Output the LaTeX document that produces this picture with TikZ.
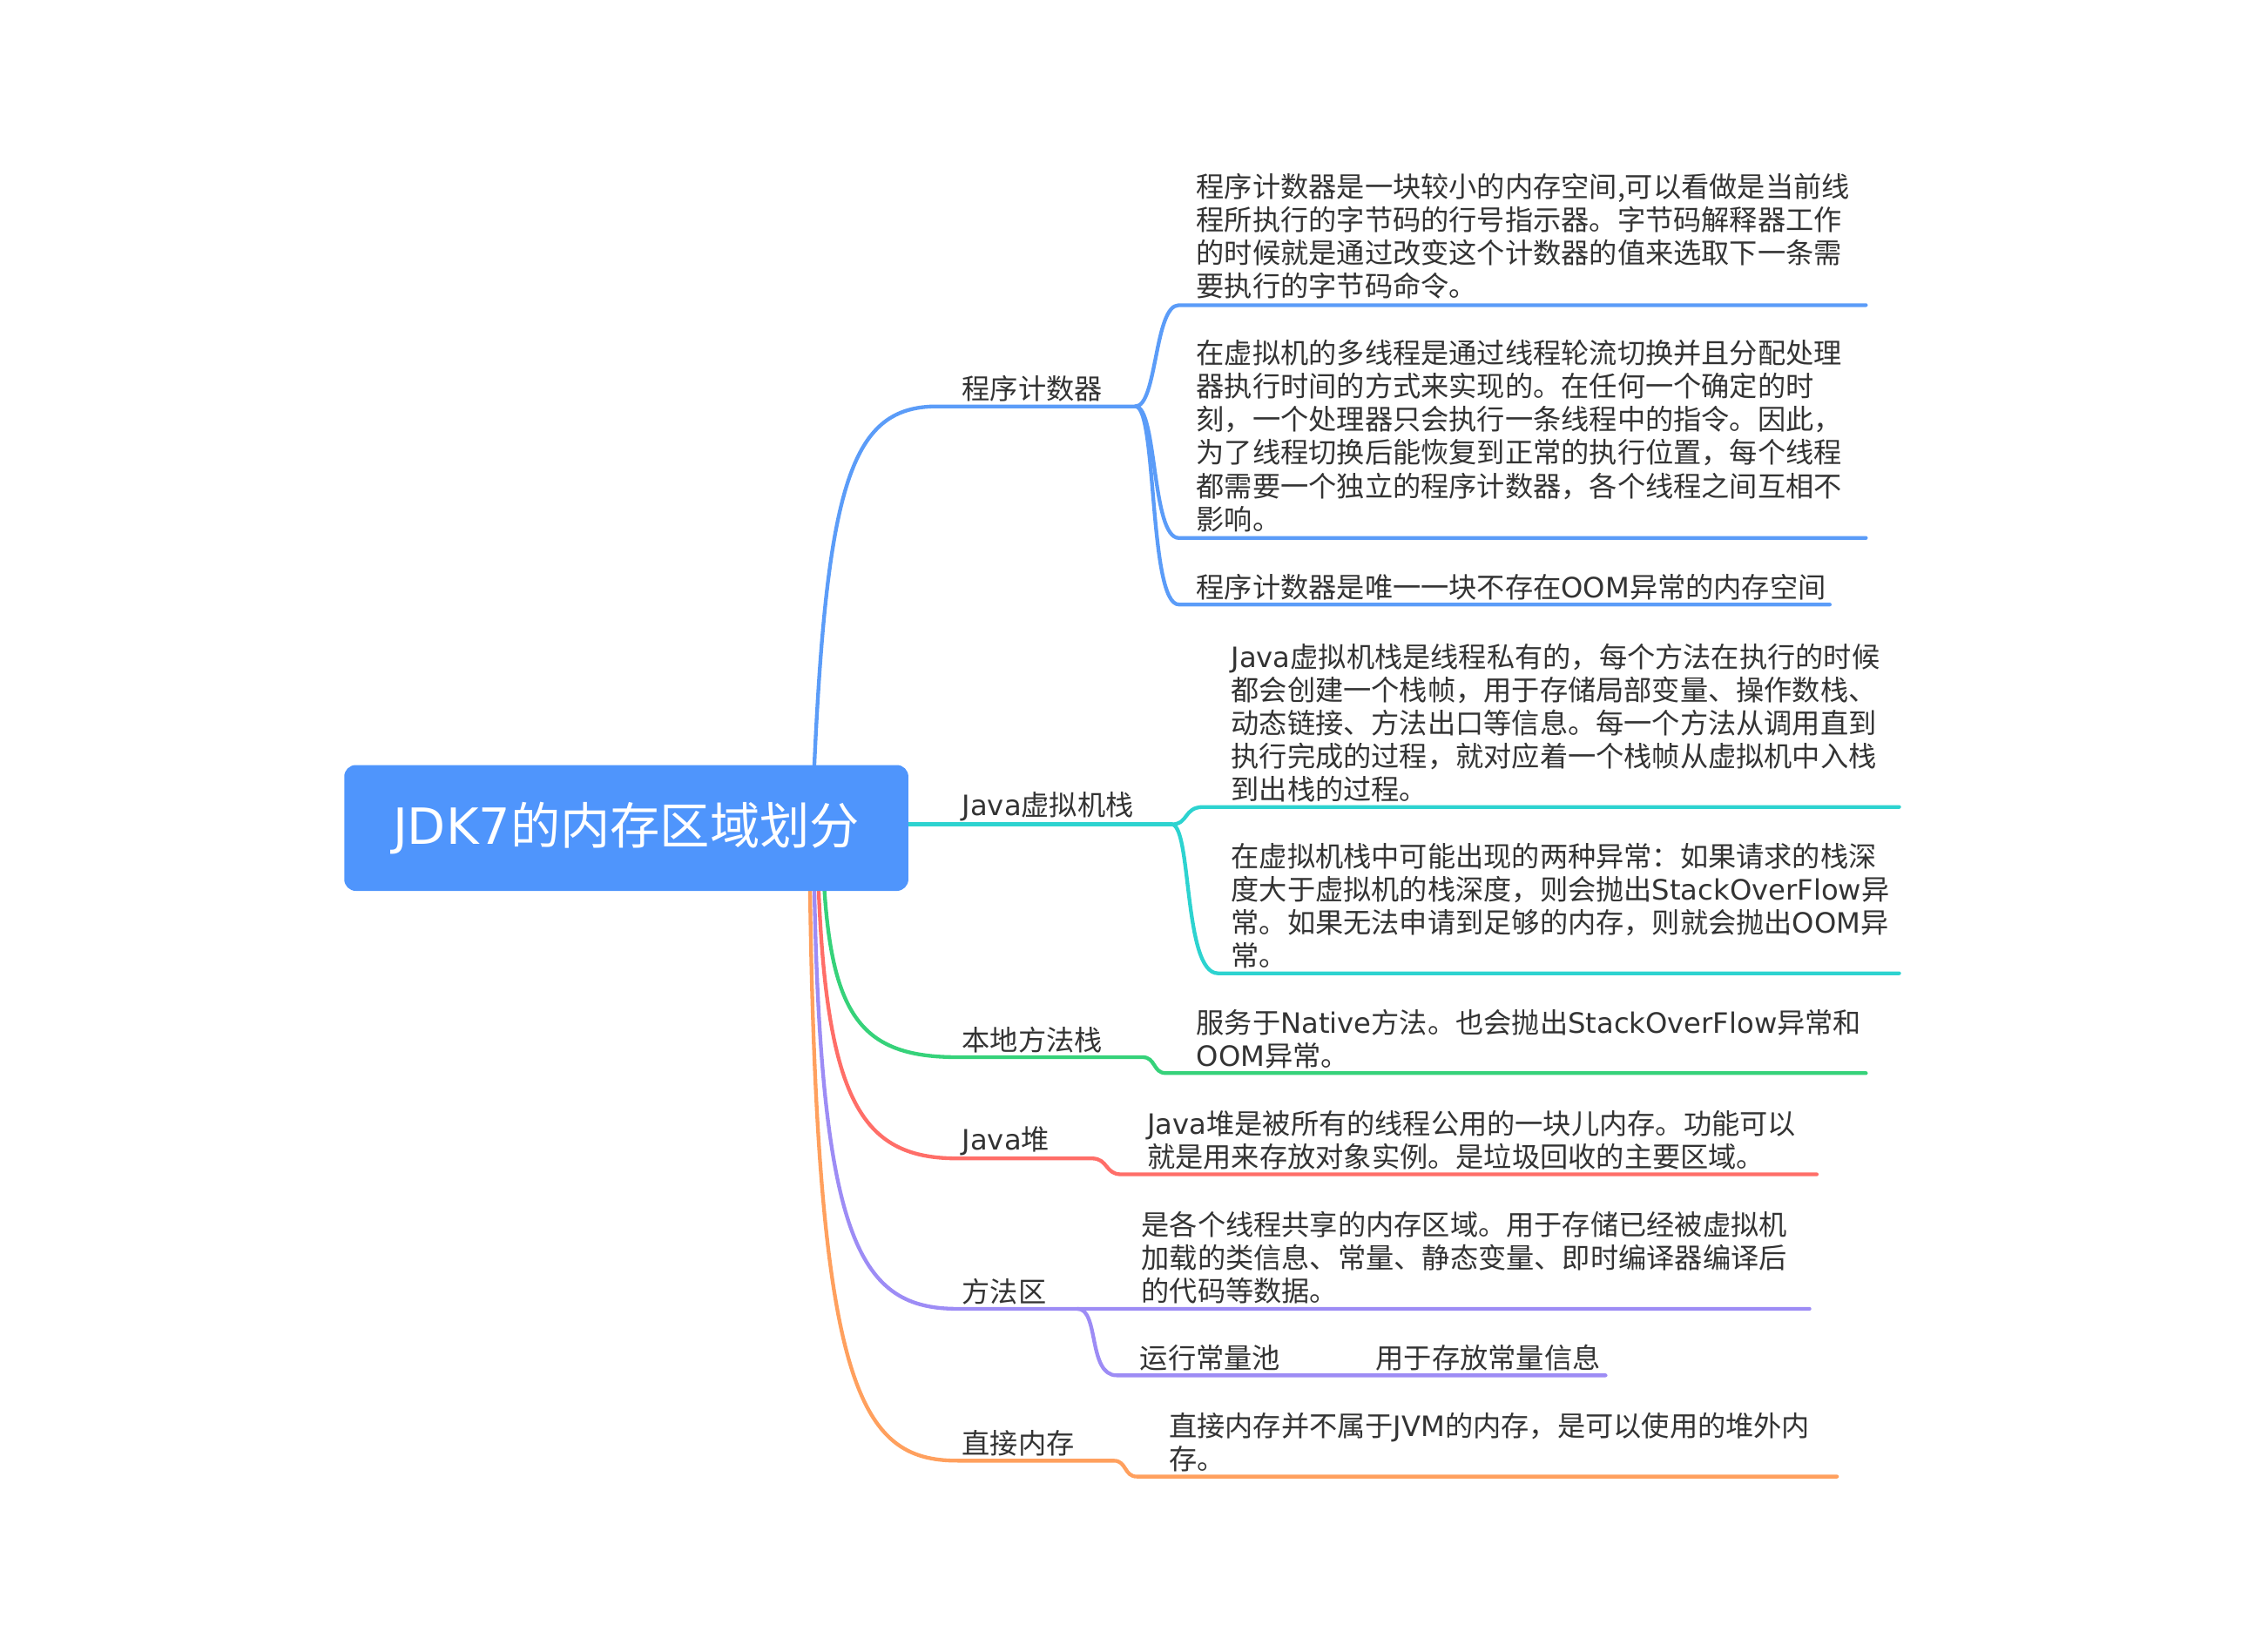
\documentclass[tikz,border=0pt]{standalone}
\usepackage{fontspec}
\setmainfont{Noto Sans CJK SC}
\newfontfamily\lat{DejaVu Sans}
\definecolor{txtc}{HTML}{333333}
\definecolor{rootc}{HTML}{4F95FC}
\definecolor{cBlue}{HTML}{5B9CF8}
\definecolor{cCyan}{HTML}{2DD3D0}
\definecolor{cGreen}{HTML}{36D27A}
\definecolor{cRed}{HTML}{FF6E68}
\definecolor{cPurple}{HTML}{9D8CF5}
\definecolor{cOrange}{HTML}{FFA05E}
\newcommand{\fsz}{\fontsize{19.4}{23}\selectfont}
\tikzset{
  lbl/.style={anchor=south west, inner sep=0pt, font=\fsz, text=txtc, align=left},
  rootbox/.style={fill=rootc, rounded corners=8pt, minimum width=390pt, minimum height=87pt, inner sep=0pt, text=white, font=\fontsize{34.5}{40}\selectfont},
  br/.style={line width=2.6pt, line cap=round, line join=round},
}
\begin{document}
\begin{tikzpicture}[x=1pt,y=-1pt]
\useasboundingbox (0,0) rectangle (1568,1137);

% ---------- connectors ----------
% blue: 程序计数器
\coordinate (b0) at (563,529);
\coordinate (b1) at (648,281);
\coordinate (bf) at (785,281);
\coordinate (bc1) at (815,211); \coordinate (bc1e) at (1290,211);
\coordinate (bc2) at (815,372); \coordinate (bc2e) at (1290,372);
\coordinate (bc3) at (815,418); \coordinate (bc3e) at (1265,418);
\draw[br, cBlue] (b0) .. controls (572,330) and (590,281) .. (b1) -- (bf);
\draw[br, cBlue] (bf) .. controls (800,281) and (798,211) .. (bc1) -- (bc1e);
\draw[br, cBlue] (bf) .. controls (800,281) and (796,372) .. (bc2) -- (bc2e);
\draw[br, cBlue] (bf) .. controls (800,281) and (794,418) .. (bc3) -- (bc3e);

% cyan: Java虚拟机栈
\coordinate (c0) at (628,570);
\coordinate (cf) at (810,570);
\coordinate (cc1) at (832,558); \coordinate (cc1e) at (1313,558);
\coordinate (cc2) at (842,673); \coordinate (cc2e) at (1313,673);
\draw[br, cCyan] (c0) -- (cf);
\draw[br, cCyan] (cf) .. controls (822,570) and (818,558) .. (cc1) -- (cc1e);
\draw[br, cCyan] (cf) .. controls (824,570) and (818,673) .. (cc2) -- (cc2e);

% green: 本地方法栈
\coordinate (g0) at (570,616);
\coordinate (g1) at (662,731);
\coordinate (gf) at (790,731);
\coordinate (gc1) at (806,742); \coordinate (gc1e) at (1290,742);
\draw[br, cGreen] (g0) .. controls (576,705) and (598,731) .. (g1) -- (gf)
  .. controls (799,731) and (797,742) .. (gc1) -- (gc1e);

% red: Java堆
\coordinate (r0) at (566,616);
\coordinate (r1) at (662,801);
\coordinate (rf) at (755,801);
\coordinate (rc1) at (775,812); \coordinate (rc1e) at (1256,812);
\draw[br, cRed] (r0) .. controls (572,765) and (598,801) .. (r1) -- (rf)
  .. controls (766,801) and (764,812) .. (rc1) -- (rc1e);

% purple: 方法区
\coordinate (p0) at (563,616);
\coordinate (p1) at (662,905);
\coordinate (pf) at (745,905);
\coordinate (pc1e) at (1251,905);
\coordinate (pc2) at (772,951); \coordinate (pc2e) at (1110,951);
\draw[br, cPurple] (p0) .. controls (568,860) and (595,905) .. (p1) -- (pf) -- (pc1e);
\draw[br, cPurple] (pf) .. controls (760,905) and (752,951) .. (pc2) -- (pc2e);

% orange: 直接内存
\coordinate (o0) at (560,616);
\coordinate (o1) at (662,1010);
\coordinate (of) at (770,1010);
\coordinate (oc1) at (786,1021); \coordinate (oc1e) at (1270,1021);
\draw[br, cOrange] (o0) .. controls (565,960) and (594,1010) .. (o1) -- (of)
  .. controls (779,1010) and (777,1021) .. (oc1) -- (oc1e);

% ---------- root ----------
\node[rootbox] (root) at (433,572.5) {\raisebox{-2pt}{{\lat JDK7}的内存区域划分}};

% ---------- texts ----------
\node[lbl] (pc) at (665,278) {程序计数器};
\node[lbl] (pcA) at (827,207) {程序计数器是一块较小的内存空间,可以看做是当前线\\程所执行的字节码的行号指示器。字节码解释器工作\\的时候就是通过改变这个计数器的值来选取下一条需\\要执行的字节码命令。};
\node[lbl] (pcB) at (827,368) {在虚拟机的多线程是通过线程轮流切换并且分配处理\\器执行时间的方式来实现的。在任何一个确定的时\\刻，一个处理器只会执行一条线程中的指令。因此，\\为了线程切换后能恢复到正常的执行位置，每个线程\\都需要一个独立的程序计数器，各个线程之间互相不\\影响。};
\node[lbl] (pcC) at (827,415) {程序计数器是唯一一块不存在{\lat OOM}异常的内存空间};

\node[lbl] (jvm) at (665,568) {{\lat Java}虚拟机栈};
\node[lbl] (jvmA) at (851,555) {{\lat Java}虚拟机栈是线程私有的，每个方法在执行的时候\\都会创建一个栈帧，用于存储局部变量、操作数栈、\\动态链接、方法出口等信息。每一个方法从调用直到\\执行完成的过程，就对应着一个栈帧从虚拟机中入栈\\到出栈的过程。};
\node[lbl] (jvmB) at (851,670) {在虚拟机栈中可能出现的两种异常：如果请求的栈深\\度大于虚拟机的栈深度，则会抛出{\lat StackOverFlow}异\\常。如果无法申请到足够的内存，则就会抛出{\lat OOM}异\\常。};

\node[lbl] (nat) at (665,728) {本地方法栈};
\node[lbl] (natA) at (827,739) {服务于{\lat Native}方法。也会抛出{\lat StackOverFlow}异常和\\{\lat OOM}异常。};

\node[lbl] (heap) at (665,799) {{\lat Java}堆};
\node[lbl] (heapA) at (793,809) {{\lat Java}堆是被所有的线程公用的一块儿内存。功能可以\\就是用来存放对象实例。是垃圾回收的主要区域。};

\node[lbl] (meth) at (665,902) {方法区};
\node[lbl] (methA) at (789,902) {是各个线程共享的内存区域。用于存储已经被虚拟机\\加载的类信息、常量、静态变量、即时编译器编译后\\的代码等数据。};
\node[lbl] (rcp) at (788,948) {运行常量池};
\node[lbl] (rcpA) at (951,948) {用于存放常量信息};

\node[lbl] (dir) at (665,1007) {直接内存};
\node[lbl] (dirA) at (808,1018) {直接内存并不属于{\lat JVM}的内存，是可以使用的堆外内\\存。};
\end{tikzpicture}
\end{document}
